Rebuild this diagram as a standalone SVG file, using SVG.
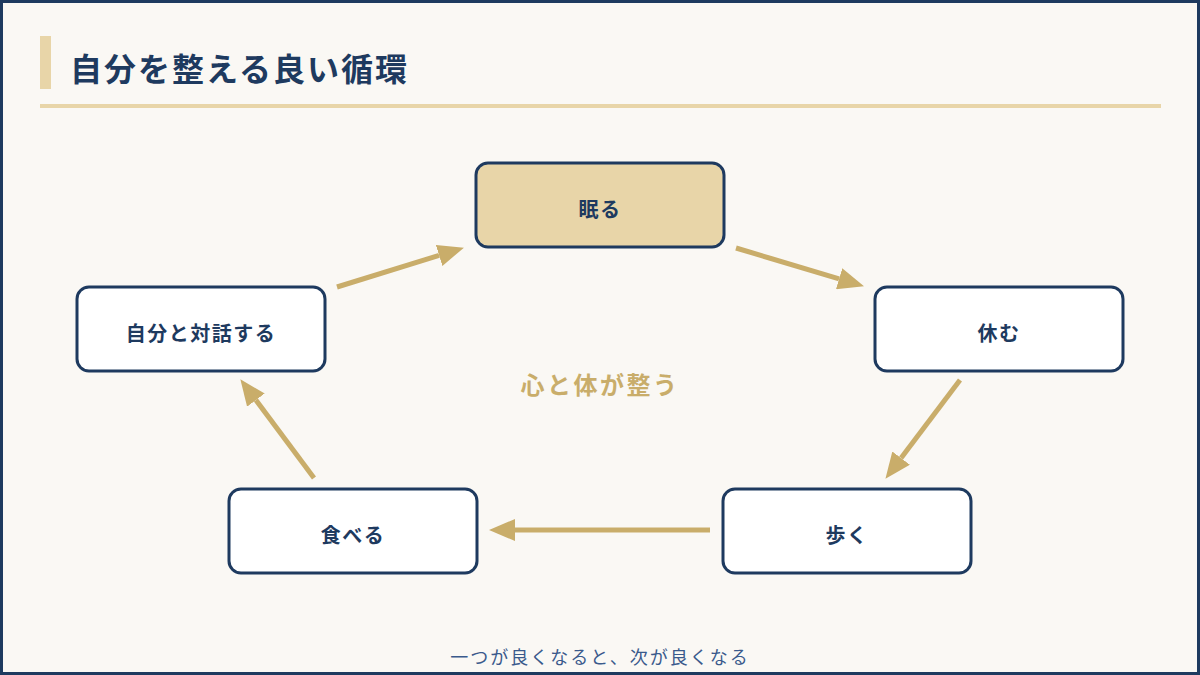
<svg xmlns="http://www.w3.org/2000/svg" width="1200" height="675" viewBox="0 0 1200 675">
<style>
.node rect{fill:#ffffff;stroke:#1e3a5f;stroke-width:3}
.node.hl rect{fill:#e8d5a8}
.node text{font-family:"Noto Sans CJK JP","Noto Sans",sans-serif;font-weight:700;font-size:20px;fill:#1e3a5f;text-anchor:middle;dominant-baseline:central;letter-spacing:1.5px}
.conn line{stroke:#c9ad6a;stroke-width:5;fill:none;marker-end:url(#ah)}
</style>
<defs>
<marker id="ah" markerUnits="userSpaceOnUse" markerWidth="26" markerHeight="22" refX="0" refY="11" orient="auto">
<path d="M0,0 L26,11 L0,22 z" fill="#c9ad6a"/>
</marker>
</defs>
<rect x="1.5" y="1.5" width="1197" height="672" fill="#faf8f4" stroke="#1e3a5f" stroke-width="3"/>
<g id="header">
<rect x="40" y="36" width="11" height="53" fill="#e8d5a8"/>
<text x="70" y="67" font-family="'Noto Sans CJK JP','Noto Sans',sans-serif" font-weight="700" font-size="32" fill="#1e3a5f" dominant-baseline="central" letter-spacing="2">自分を整える良い循環</text>
<rect x="40" y="104" width="1121" height="4" fill="#e8d5a8"/>
</g>
<g class="conn" id="connectors">
<line x1="337" y1="287" x2="439.1" y2="255.4"/>
<line x1="736" y1="248" x2="839.1" y2="278.8"/>
<line x1="960" y1="380" x2="901.1" y2="458.1"/>
<line x1="710" y1="530" x2="515" y2="530"/>
<line x1="314" y1="478" x2="255.9" y2="400.1"/>
</g>
<g id="node-sleep" class="node hl"><rect x="476" y="163" width="248" height="84" rx="12"/><text x="600" y="208">眠る</text></g>
<g id="node-rest" class="node"><rect x="875" y="287" width="248" height="84" rx="12"/><text x="999" y="332">休む</text></g>
<g id="node-walk" class="node"><rect x="723" y="489" width="248" height="84" rx="12"/><text x="847" y="534">歩く</text></g>
<g id="node-eat" class="node"><rect x="229" y="489" width="248" height="84" rx="12"/><text x="353" y="534">食べる</text></g>
<g id="node-talk" class="node"><rect x="77" y="287" width="248" height="84" rx="12"/><text x="201" y="332">自分と対話する</text></g>
<g id="center">
<text x="600" y="383" font-family="'Noto Sans CJK JP','Noto Sans',sans-serif" font-weight="700" font-size="24" fill="#c9ad6a" text-anchor="middle" dominant-baseline="central" letter-spacing="2.5">心と体が整う</text>
</g>
<g id="footer">
<text x="600" y="656" font-family="'Noto Sans CJK JP','Noto Sans',sans-serif" font-size="18" fill="#3a5a8c" text-anchor="middle" dominant-baseline="central" letter-spacing="2">一つが良くなると、次が良くなる</text>
</g>
</svg>
